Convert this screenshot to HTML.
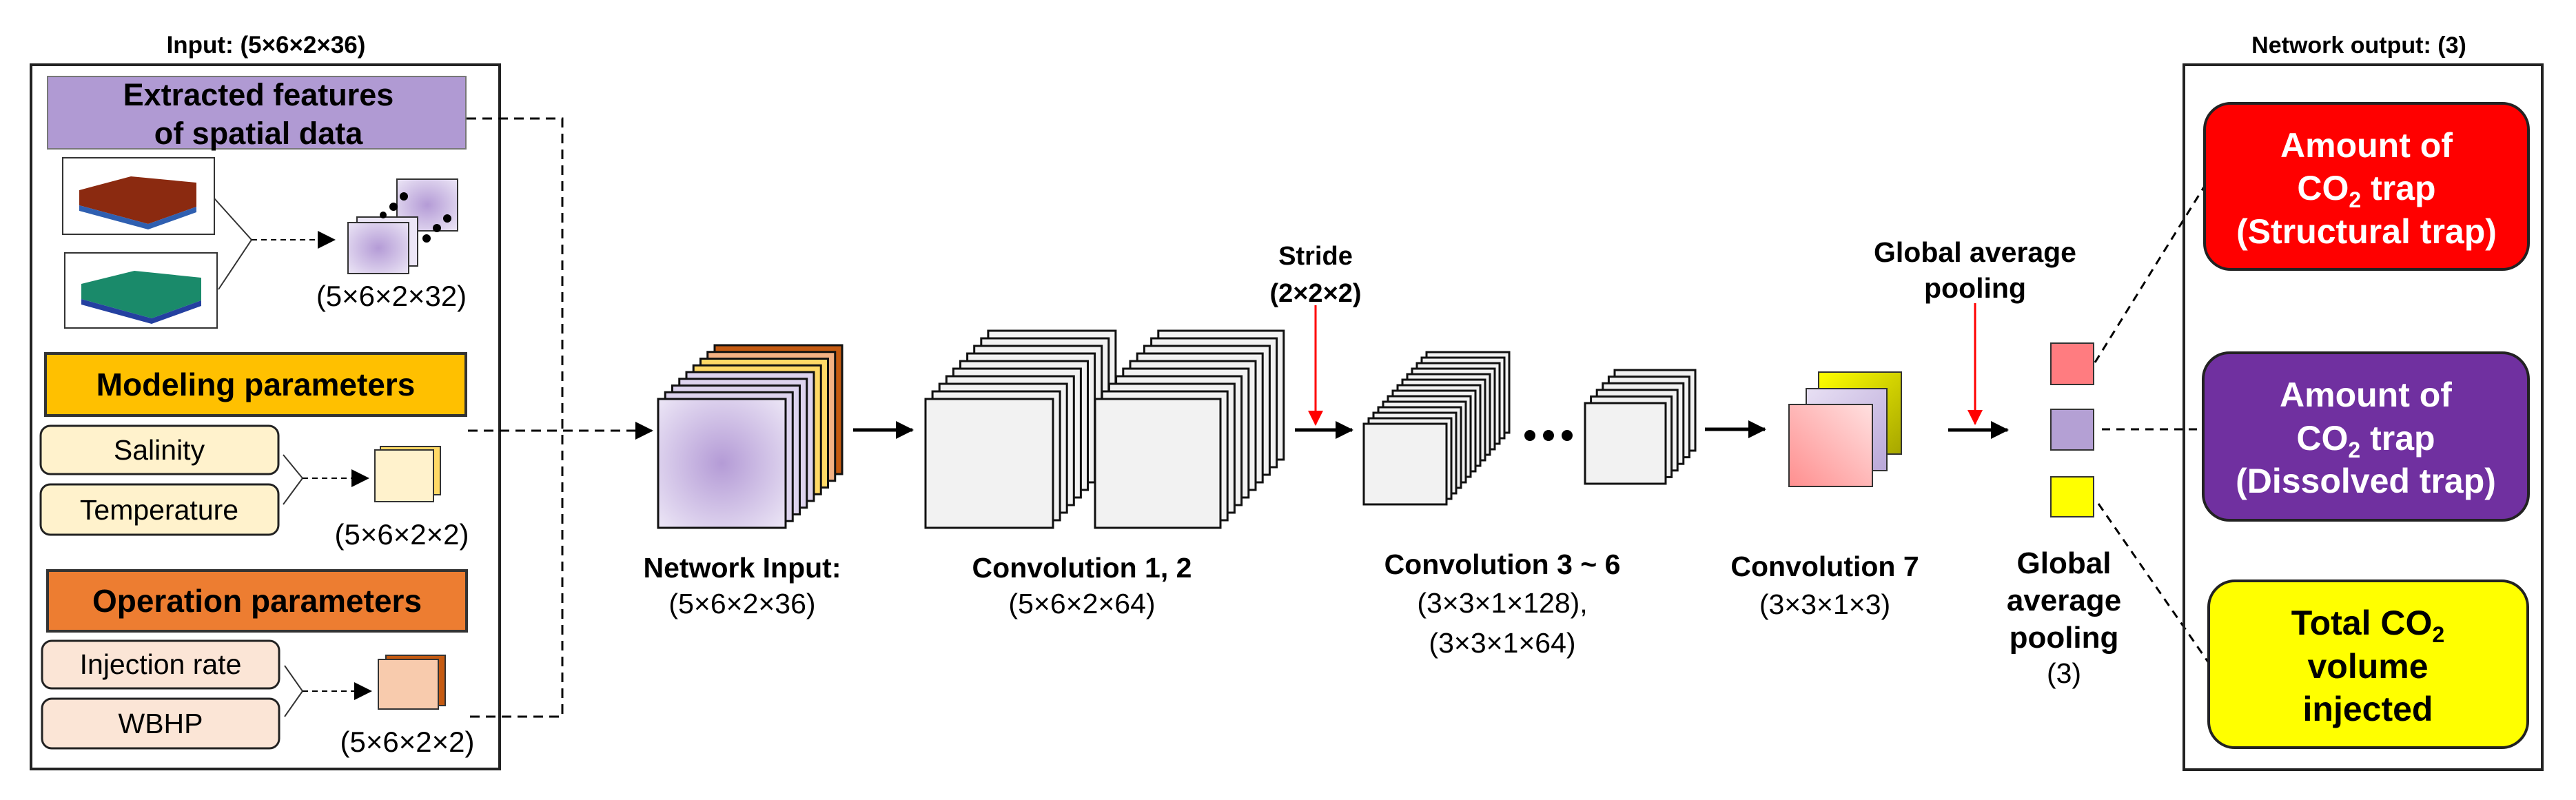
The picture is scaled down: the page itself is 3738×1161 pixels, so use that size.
<!DOCTYPE html>
<html><head><meta charset="utf-8"><style>
html,body{margin:0;padding:0;background:#fff}
svg{display:block}
text{font-family:"Liberation Sans",sans-serif}
.n{font-family:"Liberation Sans Narrow","Liberation Sans",sans-serif}
</style></head><body>
<svg id="s" width="3738" height="1161" viewBox="0 0 3738 1161" xmlns="http://www.w3.org/2000/svg">
<defs>
<radialGradient id="pg" cx="50%" cy="50%" r="70%"><stop offset="0" stop-color="#b49bd6"/><stop offset="1" stop-color="#ece6f6"/></radialGradient>
<linearGradient id="pk" x1="0" y1="1" x2="1" y2="0"><stop offset="0" stop-color="#ff8f8f"/><stop offset="1" stop-color="#ffe0e0"/></linearGradient>
<linearGradient id="lv" x1="0" y1="0" x2="1" y2="1"><stop offset="0" stop-color="#e8e0f4"/><stop offset="1" stop-color="#b9a7d8"/></linearGradient>
<linearGradient id="yl" x1="0" y1="0" x2="1" y2="1"><stop offset="0" stop-color="#ffff00"/><stop offset="1" stop-color="#a6a600"/></linearGradient>
<marker id="ahb" markerWidth="26" markerHeight="26" refX="24" refY="13" orient="auto" markerUnits="userSpaceOnUse" viewBox="0 0 26 26"><path d="M0,0 L26,13 L0,26 z" fill="#000"/></marker>
<marker id="ahr" markerWidth="22" markerHeight="26" refX="20" refY="11" orient="auto" markerUnits="userSpaceOnUse" viewBox="0 0 22 22"><path d="M0,0 L22,11 L0,22 z" fill="#f00"/></marker>
</defs>

<text x="386" y="77" font-size="35" font-weight="bold" text-anchor="middle">Input: (5×6×2×36)</text>
<rect x="45" y="94" width="680" height="1022" fill="#fff" stroke="#222" stroke-width="4"/>
<rect x="69" y="111" width="607" height="105" fill="#b09ad3" stroke="#777" stroke-width="2"/>
<text x="375" y="153" font-size="45" font-weight="bold" text-anchor="middle">Extracted features</text>
<text x="375" y="209" font-size="45" font-weight="bold" text-anchor="middle">of spatial data</text>

<rect x="91" y="229" width="220" height="111" fill="#fff" stroke="#333" stroke-width="2"/>
<polygon points="115,276 190,256 285,265 285,300 215,325 115,298" fill="#8b2a10"/>
<polygon points="115,298 215,325 285,300 285,308 215,333 115,306" fill="#2f5fb0"/>
<rect x="94" y="367" width="221" height="109" fill="#fff" stroke="#333" stroke-width="2"/>
<polygon points="118,412 195,393 292,403 292,436 220,462 118,434" fill="#1a8a6a"/>
<polygon points="118,434 220,462 292,436 292,444 220,470 118,442" fill="#2440a0"/>
<polyline points="311,288 365,348 317,420" fill="none" stroke="#333" stroke-width="2"/>
<line x1="365" y1="348" x2="485" y2="348" stroke="#000" stroke-width="2" stroke-dasharray="8,6" marker-end="url(#ahb)"/>
<rect x="576" y="260" width="88" height="75" fill="url(#pg)" stroke="#333" stroke-width="2"/>
<rect x="518" y="315" width="88" height="71" fill="#ece6f6" stroke="#333" stroke-width="2"/>
<rect x="505" y="323" width="88" height="74" fill="url(#pg)" stroke="#333" stroke-width="2"/>
<g fill="#000"><circle cx="586" cy="285" r="6"/><circle cx="571" cy="300" r="6"/><circle cx="556" cy="312" r="5"/><circle cx="649" cy="317" r="6"/><circle cx="634" cy="331" r="6"/><circle cx="619" cy="346" r="6"/></g>
<text x="568" y="444" font-size="42" text-anchor="middle">(5×6×2×32)</text>

<rect x="66" y="513" width="610" height="90" fill="#ffc000" stroke="#333" stroke-width="4"/>
<text x="371" y="574" font-size="46" font-weight="bold" text-anchor="middle">Modeling parameters</text>
<rect x="59" y="618" width="345" height="70" rx="14" fill="#fff2cc" stroke="#222" stroke-width="3"/>
<text x="231" y="667" font-size="41" text-anchor="middle">Salinity</text>
<rect x="59" y="703" width="345" height="73" rx="14" fill="#fff2cc" stroke="#222" stroke-width="3"/>
<text x="231" y="754" font-size="41" text-anchor="middle">Temperature</text>
<polyline points="411,660 439,694 411,732" fill="none" stroke="#333" stroke-width="2"/>
<line x1="439" y1="694" x2="534" y2="694" stroke="#000" stroke-width="2" stroke-dasharray="8,6" marker-end="url(#ahb)"/>
<rect x="552" y="648" width="87" height="70" fill="#ffd966" stroke="#333" stroke-width="2"/>
<rect x="544" y="653" width="85" height="75" fill="#fff2cc" stroke="#333" stroke-width="2"/>
<text x="583" y="790" font-size="42" text-anchor="middle">(5×6×2×2)</text>

<rect x="69" y="828" width="608" height="88" fill="#ed7d31" stroke="#333" stroke-width="4"/>
<text x="373" y="888" font-size="46" font-weight="bold" text-anchor="middle">Operation parameters</text>
<rect x="61" y="930" width="344" height="69" rx="14" fill="#fbe5d6" stroke="#222" stroke-width="3"/>
<text x="233" y="978" font-size="41" text-anchor="middle">Injection rate</text>
<rect x="61" y="1014" width="344" height="72" rx="14" fill="#fbe5d6" stroke="#222" stroke-width="3"/>
<text x="233" y="1064" font-size="41" text-anchor="middle">WBHP</text>
<polyline points="413,966 439,1003 413,1040" fill="none" stroke="#333" stroke-width="2"/>
<line x1="439" y1="1003" x2="538" y2="1003" stroke="#000" stroke-width="2" stroke-dasharray="8,6" marker-end="url(#ahb)"/>
<rect x="560" y="951" width="86" height="73" fill="#c55a11" stroke="#333" stroke-width="2"/>
<rect x="549" y="957" width="87" height="72" fill="#f8cbad" stroke="#333" stroke-width="2"/>
<text x="591" y="1091" font-size="42" text-anchor="middle">(5×6×2×2)</text>

<polyline points="677,172 816,172 816,1040 677,1040" fill="none" stroke="#000" stroke-width="3" stroke-dasharray="14,9"/>
<line x1="679" y1="625" x2="946" y2="625" stroke="#000" stroke-width="3" stroke-dasharray="14,9" marker-end="url(#ahb)"/>

<g id="stacks"></g>

<line x1="1238" y1="624" x2="1324" y2="624" stroke="#000" stroke-width="5" marker-end="url(#ahb)"/>
<line x1="1879" y1="624" x2="1962" y2="624" stroke="#000" stroke-width="5" marker-end="url(#ahb)"/>
<line x1="2474" y1="623" x2="2561" y2="623" stroke="#000" stroke-width="5" marker-end="url(#ahb)"/>
<line x1="2827" y1="624" x2="2913" y2="624" stroke="#000" stroke-width="5" marker-end="url(#ahb)"/>
<line x1="1909" y1="443" x2="1909" y2="616" stroke="#f00" stroke-width="3" marker-end="url(#ahr)"/>
<line x1="2866" y1="440" x2="2866" y2="615" stroke="#f00" stroke-width="3" marker-end="url(#ahr)"/>
<g fill="#000"><circle cx="2220" cy="632" r="8"/><circle cx="2247" cy="632" r="8"/><circle cx="2274" cy="632" r="8"/></g>

<g class="n" font-size="41" text-anchor="middle">
<text class="n" x="1909" y="384" font-weight="bold" font-size="38">Stride</text>
<text class="n" x="1909" y="438" font-weight="bold" font-size="38">(2×2×2)</text>
<text class="n" x="1077" y="838" font-weight="bold">Network Input:</text>
<text class="n" x="1077" y="890">(5×6×2×36)</text>
<text class="n" x="1570" y="838" font-weight="bold">Convolution 1, 2</text>
<text class="n" x="1570" y="890">(5×6×2×64)</text>
<text class="n" x="2180" y="833" font-weight="bold">Convolution 3 ~ 6</text>
<text class="n" x="2180" y="889">(3×3×1×128),</text>
<text class="n" x="2180" y="947">(3×3×1×64)</text>
<text class="n" x="2648" y="836" font-weight="bold">Convolution 7</text>
<text class="n" x="2648" y="891">(3×3×1×3)</text>
<text class="n" x="2866" y="380" font-weight="bold" font-size="41">Global average</text>
<text class="n" x="2866" y="432" font-weight="bold" font-size="41">pooling</text>
<text class="n" x="2995" y="832" font-weight="bold" font-size="44">Global</text>
<text class="n" x="2995" y="886" font-weight="bold" font-size="44">average</text>
<text class="n" x="2995" y="940" font-weight="bold" font-size="44">pooling</text>
<text class="n" x="2995" y="991">(3)</text>
</g>

<rect x="2639" y="540" width="120" height="119" fill="url(#yl)" stroke="#333" stroke-width="2"/>
<rect x="2621" y="564" width="117" height="119" fill="url(#lv)" stroke="#333" stroke-width="2"/>
<rect x="2596" y="587" width="121" height="119" fill="url(#pk)" stroke="#333" stroke-width="2"/>

<rect x="2976" y="498" width="62" height="60" fill="#ff7c80" stroke="#333" stroke-width="2"/>
<rect x="2976" y="594" width="62" height="59" fill="#b4a0d4" stroke="#333" stroke-width="2"/>
<rect x="2976" y="692" width="62" height="58" fill="#ffff00" stroke="#333" stroke-width="2"/>
<g stroke="#000" stroke-width="3" stroke-dasharray="12,9" fill="none">
<line x1="3040" y1="526" x2="3199" y2="270"/>
<line x1="3050" y1="623" x2="3199" y2="623"/>
<line x1="3045" y1="731" x2="3205" y2="962"/>
</g>

<text class="n" x="3423" y="77" font-size="34" font-weight="bold" text-anchor="middle">Network output: (3)</text>
<rect x="3169" y="94" width="520" height="1023" fill="none" stroke="#222" stroke-width="4"/>
<rect x="3199" y="150" width="470" height="241" rx="38" fill="#ff0000" stroke="#222" stroke-width="4"/>
<g class="n" font-size="50" font-weight="bold" text-anchor="middle" fill="#fff">
<text class="n" x="3434" y="228">Amount of</text>
<text class="n" x="3434" y="290">CO<tspan font-size="32" dy="11">2</tspan><tspan dy="-11"> trap</tspan></text>
<text class="n" x="3434" y="353">(Structural trap)</text>
</g>
<rect x="3197" y="512" width="472" height="243" rx="38" fill="#7030a0" stroke="#222" stroke-width="4"/>
<g class="n" font-size="50" font-weight="bold" text-anchor="middle" fill="#fff">
<text class="n" x="3433" y="590">Amount of</text>
<text class="n" x="3433" y="653">CO<tspan font-size="32" dy="11">2</tspan><tspan dy="-11"> trap</tspan></text>
<text class="n" x="3433" y="715">(Dissolved trap)</text>
</g>
<rect x="3205" y="843" width="463" height="242" rx="38" fill="#ffff00" stroke="#222" stroke-width="4"/>
<g class="n" font-size="50" font-weight="bold" text-anchor="middle" fill="#000">
<text class="n" x="3436" y="921">Total CO<tspan font-size="32" dy="11">2</tspan></text>
<text class="n" x="3436" y="984">volume</text>
<text class="n" x="3436" y="1046">injected</text>
</g>
</svg>
<script>
(function(){
var g=document.getElementById('stacks'),NS='http://www.w3.org/2000/svg';
function R(x,y,w,h,f){var r=document.createElementNS(NS,'rect');r.setAttribute('x',x);r.setAttribute('y',y);r.setAttribute('width',w);r.setAttribute('height',h);r.setAttribute('fill',f);r.setAttribute('stroke','#111');r.setAttribute('stroke-width','3');g.appendChild(r);}
function st(x,y,w,h,n,dx,dy,fills){for(var i=n-1;i>=0;i--){R(x+i*dx,y+i*dy,w,h,fills(i));}}
var ni=['url(#pg)','#ddd3ee','#ddd3ee','#ddd3ee','#ddd3ee','#ffd966','#ffd966','#f4b183','#c55a11'];
st(955,579,185,187,9,10.25,-9.75,function(i){return ni[i];});
st(1343,579,185,187,10,10.1,-11,function(){return '#f2f2f2';});
st(1589,579,182,187,10,10.2,-11,function(){return '#f2f2f2';});
st(1979,615,120,117,14,7,-8,function(){return '#f2f2f2';});
st(2300,585,117,117,6,8.6,-9.6,function(){return '#f2f2f2';});
})();
</script>
</body></html>
